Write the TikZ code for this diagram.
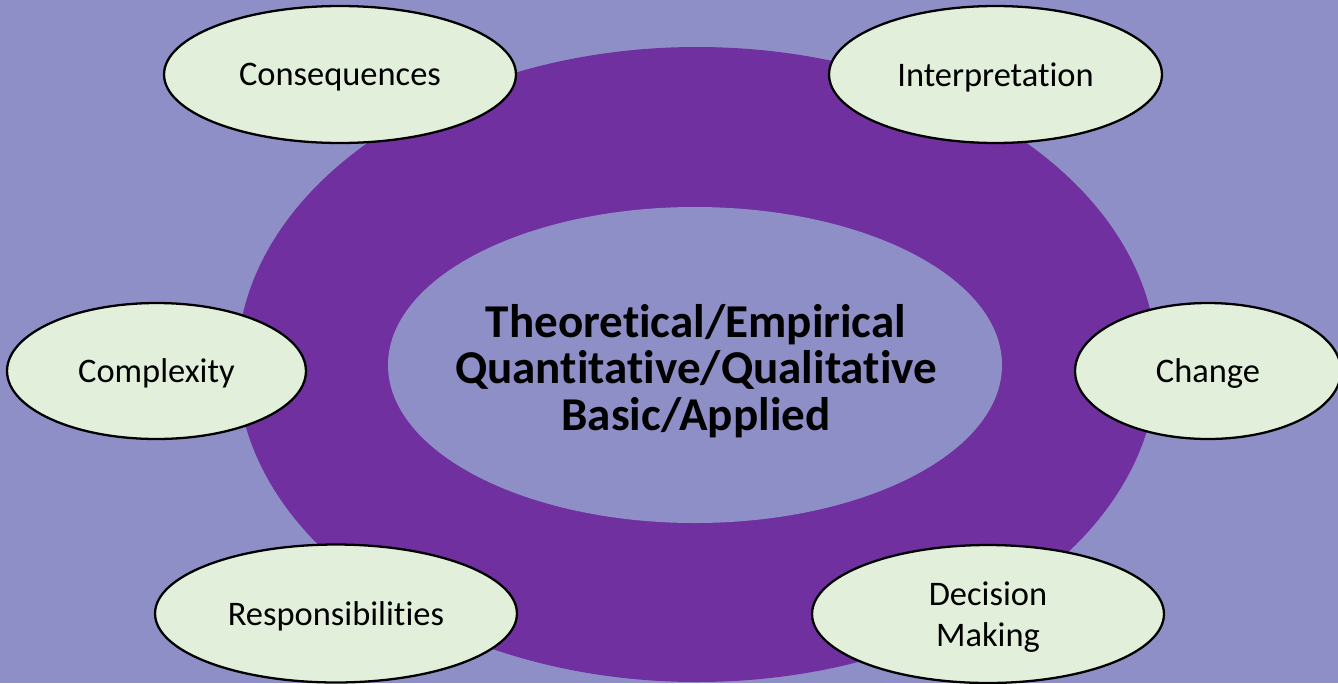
\documentclass[tikz,border=0pt]{standalone}
\usepackage{fontspec}
\setmainfont{Carlito}[Ligatures=NoCommon, Contextuals=NoAlternate]
\usetikzlibrary{shapes.geometric}
\definecolor{lavender}{RGB}{143,143,200}
\definecolor{ringpurple}{RGB}{112,48,160}
\definecolor{leafgreen}{RGB}{226,239,218}
\tikzset{
  topic/.style={ellipse, draw=black, line width=1.3pt, fill=leafgreen,
    inner sep=0pt, align=center, text depth=0pt, font=\fontsize{19.6}{23.5}\selectfont},
}
\begin{document}
\begin{tikzpicture}[x=0.02cm, y=-0.02cm]
  \useasboundingbox (0,0) rectangle (1338,683);
  \clip (0,0) rectangle (1338,683);
  \fill[lavender] (0,0) rectangle (1338,683);
  \fill[ringpurple] (697,364.5) ellipse [x radius=460, y radius=317.5];
  \fill[lavender] (695,365) ellipse [x radius=307, y radius=158];
  \node[align=center, font=\bfseries\fontsize{26.8}{26.5}\selectfont] (core) at (696,371)
    {Theoretical/Empirical\\Quantitative/Qualitative\\Basic/Applied};
  \node[topic, minimum width=7.04cm, minimum height=2.74cm] (cons) at (340,74.5) {Consequences};
  \node[topic, minimum width=6.66cm, minimum height=2.74cm] (interp) at (995.5,74.5) {Interpretation};
  \node[topic, minimum width=5.98cm, minimum height=2.72cm] (compl) at (156.5,371) {Complexity};
  \node[topic, minimum width=5.32cm, minimum height=2.72cm] (change) at (1208,371) {Change};
  \node[topic, minimum width=7.24cm, minimum height=2.76cm] (resp) at (336,613.5) {Responsibilities};
  \node[topic, minimum width=7.04cm, minimum height=2.76cm] (decide) at (988,614) {Decision\\Making};
\end{tikzpicture}
\end{document}
